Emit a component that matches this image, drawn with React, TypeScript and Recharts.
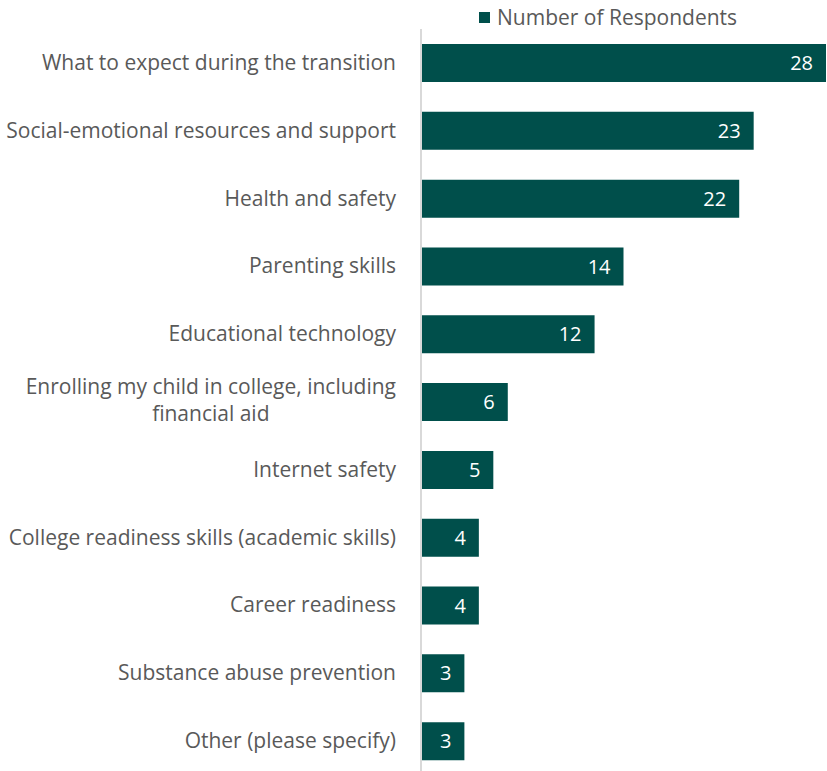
import { BarChart, Bar, XAxis, YAxis, Legend, LabelList } from 'recharts'

const topics = [
    'What to expect during the transition',
    'Social-emotional resources and support',
    'Health and safety',
    'Parenting skills',
    'Educational technology',
    'Enrolling my child in college, including financial aid',
    'Internet safety',
    'College readiness skills (academic skills)',
    'Career readiness',
    'Substance abuse prevention',
    'Other (please specify)',
]
const respondents = [28, 23, 22, 14, 12, 6, 5, 4, 4, 3, 3]

const data = topics.map((topic, i) => ({ topic, count: respondents[i] }))

const FONT = '"Open Sans", sans-serif'
const TEXT = '#595959'
const BAR = '#004F4B'
const SIZE = 21

const measure = (s: string, size: number) => {
    const ctx = document.createElement('canvas').getContext('2d')
    if (!ctx) return s.length * size * 0.5
    ctx.font = `${size}px "Open Sans"`
    return ctx.measureText(s).width
}

const wrap = (s: string, max = 42) => {
    if (s.length <= max) return [s]
    const cut = s.lastIndexOf(' ', max - 2)
    return [s.slice(0, cut), s.slice(cut + 1)]
}

const TopicTick = ({ x, y, payload }: any) => {
    const lines = wrap(payload.value)
    const right = x - 17
    if (lines.length === 1) {
        return (
            <text x={right} y={y} dy={7} textAnchor="end" fill={TEXT} fontSize={SIZE} fontFamily={FONT}>
                {payload.value}
            </text>
        )
    }
    const w = measure(lines[0], SIZE)
    const mid = right - w / 2
    return (
        <text x={mid} y={y} textAnchor="middle" fill={TEXT} fontSize={SIZE} fontFamily={FONT}>
            <tspan x={mid} dy={-8}>{lines[0]}</tspan>
            <tspan x={mid} dy={27}>{lines[1]}</tspan>
        </text>
    )
}

const LegendBox = () => (
    <div style={{ display: 'flex', alignItems: 'center', fontFamily: FONT, fontSize: 21, color: TEXT }}>
        <span style={{ width: 11, height: 11, background: BAR, marginRight: 7, display: 'inline-block' }} />
        Number of Respondents
    </div>
)

export default function App() {
    return (
        <div style={{ position: 'absolute', left: 0, top: 0, background: '#fff' }}>
            <BarChart
                width={827}
                height={771}
                data={data}
                layout="vertical"
                margin={{ top: 1, right: 1, bottom: -4, left: 0 }}
                barSize={38}
            >
                <XAxis type="number" domain={[0, 28]} hide />
                <YAxis
                    type="category"
                    dataKey="topic"
                    width={421}
                    tickLine={false}
                    axisLine={{ stroke: '#D9D9D9', strokeWidth: 2 }}
                    tick={<TopicTick />}
                    interval={0}
                />
                <Legend
                    verticalAlign="top"
                    content={<LegendBox />}
                    wrapperStyle={{ top: 3, left: 479, width: 'auto' }}
                />
                <Bar dataKey="count" fill={BAR} isAnimationActive={false}>
                    <LabelList
                        dataKey="count"
                        position="insideRight"
                        offset={13}
                        fill="#FFFFFF"
                        fontSize={20}
                        fontFamily={FONT}
                    />
                </Bar>
            </BarChart>
        </div>
    )
}
